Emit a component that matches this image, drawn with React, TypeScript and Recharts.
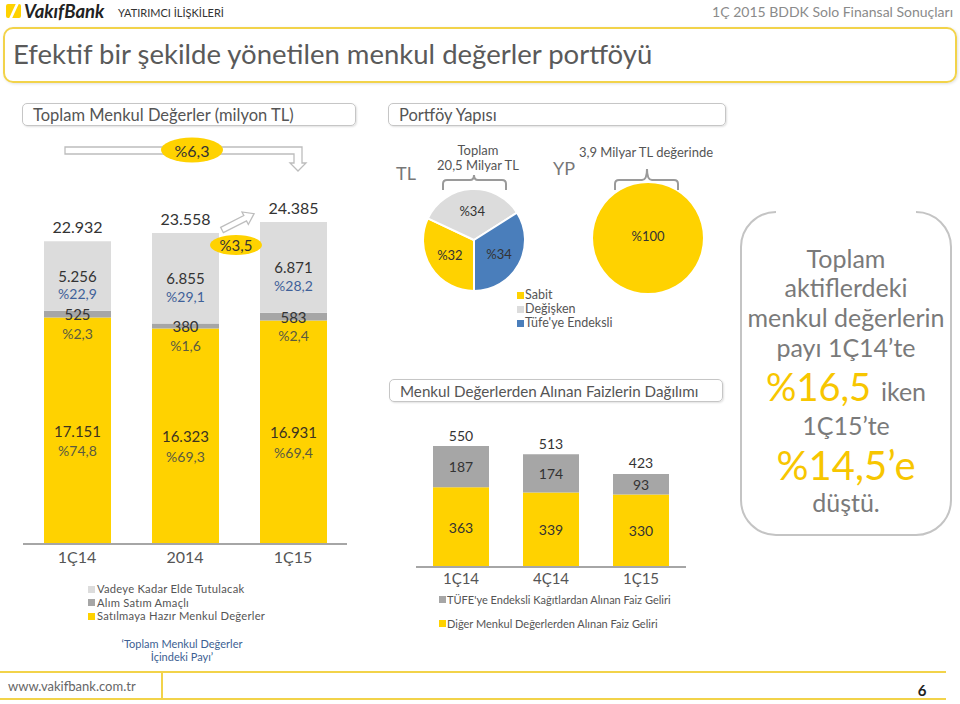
import React from "react";
import { BarChart, Bar, XAxis, YAxis, LabelList, PieChart, Pie, Cell } from "recharts";

const FONT = "Lato, 'Open Sans', sans-serif";
const YELLOW = "#FFD200";
const LIGHT = "#DCDCDC";
const DARK = "#A6A6A6";
const BLUE = "#4A7EBB";
const TEXT = "#555555";

// Toplam Menkul Değerler (milyon TL)
const periods = ["1Ç14", "2014", "1Ç15"];
const satilmayaHazir = [17151, 16323, 16931];
const alimSatim = [525, 380, 583];
const vadeyeKadar = [5256, 6855, 6871];
const portfolioLegend = ["Vadeye Kadar Elde Tutulacak", "Alım Satım Amaçlı", "Satılmaya Hazır Menkul Değerler"];

// Portföy Yapısı
const tlNames = ["Sabit", "Değişken", "Tüfe'ye Endeksli"];
const tlShares = [32, 34, 34];
const ypShares = [100];

// Menkul Değerlerden Alınan Faizlerin Dağılımı
const quarters = ["1Ç14", "4Ç14", "1Ç15"];
const digerFaiz = [363, 339, 330];
const tufeFaiz = [187, 174, 93];
const incomeLegend = ["TÜFE'ye Endeksli Kağıtlardan Alınan Faiz Geliri", "Diğer Menkul Değerlerden Alınan Faiz Geliri"];

const growth = ["%6,3", "%3,5"];

const tr = (n: number) => String(n).replace(/\B(?=(\d{3})+(?!\d))/g, ".");
const pct = (v: number, t: number) => "%" + ((v / t) * 100).toFixed(1).replace(".", ",");

const portfolioData = periods.map((p, i) => ({
  period: p,
  satilmaya: satilmayaHazir[i],
  alim: alimSatim[i],
  vadeye: vadeyeKadar[i],
  total: satilmayaHazir[i] + alimSatim[i] + vadeyeKadar[i],
}));

const incomeData = quarters.map((q, i) => ({
  quarter: q,
  diger: digerFaiz[i],
  tufe: tufeFaiz[i],
  total: digerFaiz[i] + tufeFaiz[i],
}));

const tlData = tlNames.map((n, i) => ({ name: n, value: tlShares[i] }));
const tlColors = [YELLOW, LIGHT, BLUE];
const ypData = ypShares.map((v) => ({ name: "Sabit", value: v }));

function T({ x, y, children, size = 13, color = TEXT, align = "left", weight = 400, style = {} }: any) {
  const tx = align === "center" ? "-50%" : align === "right" ? "-100%" : "0";
  return (
    <div
      style={{
        position: "absolute",
        left: x,
        top: y,
        transform: `translate(${tx}, -50%)`,
        fontSize: size,
        color,
        fontWeight: weight,
        lineHeight: 1,
        whiteSpace: "nowrap",
        fontFamily: FONT,
        ...style,
      }}
    >
      {children}
    </div>
  );
}

const box = (p: any) => {
  const v = p.viewBox || {};
  return { x: p.x ?? v.x, y: p.y ?? v.y, w: p.width ?? v.width, h: p.height ?? v.height };
};

const segLabel = (key: "vadeye" | "alim" | "satilmaya", valColor: string, pctColor: string, pctDy: number) => (p: any) => {
  const { x, y, w, h } = box(p);
  const row = portfolioData[p.index];
  const cx = x + w / 2;
  const cy = y + h / 2;
  return (
    <g>
      <text x={cx} y={cy} textAnchor="middle" dominantBaseline="central" fontSize={15} fill={valColor} fontFamily={FONT}>
        {tr(row[key])}
      </text>
      <text x={cx} y={cy + pctDy} textAnchor="middle" dominantBaseline="central" fontSize={14} fill={pctColor} fontFamily={FONT}>
        {pct(row[key], row.total)}
      </text>
    </g>
  );
};

const topLabel = (dy: number, size: number) => (p: any) => {
  const { x, y, w } = box(p);
  return (
    <text x={x + w / 2} y={y - dy} textAnchor="middle" dominantBaseline="central" fontSize={size} fill="#333" fontFamily={FONT}>
      {tr(p.value)}
    </text>
  );
};

const midLabel = (key: "diger" | "tufe") => (p: any) => {
  const { x, y, w, h } = box(p);
  return (
    <text x={x + w / 2} y={y + h / 2} textAnchor="middle" dominantBaseline="central" fontSize={14} fill="#333" fontFamily={FONT}>
      {incomeData[p.index][key]}
    </text>
  );
};

const RAD = Math.PI / 180;
const pieLabel = (p: any) => {
  const r = p.outerRadius * 0.56;
  const x = p.cx + r * Math.cos(-p.midAngle * RAD);
  const y = p.cy + r * Math.sin(-p.midAngle * RAD);
  return (
    <text x={x} y={y} textAnchor="middle" dominantBaseline="central" fontSize={13} fill="#333" fontFamily={FONT}>
      %{p.value}
    </text>
  );
};
const ypLabel = (p: any) => (
  <text x={p.cx} y={p.cy - 2} textAnchor="middle" dominantBaseline="central" fontSize={13} fill="#333" fontFamily={FONT}>
    %{p.value}
  </text>
);

const sectionBox = (x: number, y: number, w: number, label: string, size: number) => (
  <div
    style={{
      position: "absolute",
      left: x,
      top: y,
      width: w,
      height: 23,
      border: "1px solid #c6c6c6",
      borderRadius: 5,
      boxShadow: "1px 1px 2px rgba(0,0,0,0.12)",
      fontFamily: FONT,
      fontSize: size,
      color: TEXT,
      lineHeight: "22px",
      paddingLeft: 10,
      boxSizing: "border-box",
      whiteSpace: "nowrap",
    }}
  >
    {label}
  </div>
);

const Square = ({ x, y, color }: any) => (
  <div style={{ position: "absolute", left: x, top: y - 3.5, width: 7, height: 7, background: color }} />
);

export default function App() {
  return (
    <div style={{ position: "absolute", left: 0, top: 0, width: 960, height: 704, background: "#fff", overflow: "hidden", fontFamily: FONT }}>
      {/* header */}
      <div style={{ position: "absolute", left: 6, top: 4, width: 15, height: 14, background: YELLOW, borderRadius: 2, overflow: "hidden" }}>
        <div style={{ position: "absolute", left: 6, top: -2, width: 3, height: 20, background: "#fff", transform: "skewX(-25deg)" }} />
      </div>
      <T x={24} y={11} size={18.5} color="#222" weight={700} style={{ fontStyle: "italic" }}>VakıfBank</T>
      <T x={118} y={12} size={11} color="#333">YATIRIMCI İLİŞKİLERİ</T>
      <T x={953} y={12} size={14} color="#8a8a8a" align="right">1Ç 2015 BDDK Solo Finansal Sonuçları</T>

      <div
        style={{
          position: "absolute",
          left: 3,
          top: 27,
          width: 954,
          height: 56,
          border: "2px solid #F2D34A",
          borderRadius: 10,
          boxSizing: "border-box",
          boxShadow: "1px 1px 3px rgba(0,0,0,0.12)",
        }}
      />
      <T x={13} y={54} size={27.5} color="#5a5a5a">Efektif bir şekilde yönetilen menkul değerler portföyü</T>

      {sectionBox(22, 103, 334, "Toplam Menkul Değerler (milyon TL)", 16.5)}
      {sectionBox(388, 103, 338, "Portföy Yapısı", 16.5)}
      {sectionBox(389, 379, 334, "Menkul Değerlerden Alınan Faizlerin Dağılımı", 15.2)}

      {/* left stacked bars */}
      <div style={{ position: "absolute", left: 23, top: 181 }}>
        <BarChart width={324} height={363 + 30} data={portfolioData} margin={{ top: 0, right: 0, bottom: 0, left: 0 }}>
          <YAxis hide domain={[0, 27500]} />
          <XAxis
            dataKey="period"
            height={30}
            axisLine={{ stroke: "#A6A6A6", strokeWidth: 2 }}
            tickLine={false}
            tick={{ fontSize: 16, fill: TEXT, fontFamily: FONT }}
          />
          <Bar dataKey="satilmaya" stackId="a" fill={YELLOW} barSize={67} isAnimationActive={false}>
            <LabelList content={segLabel("satilmaya", "#3b3320", "#5a5a40", 20)} />
          </Bar>
          <Bar dataKey="alim" stackId="a" fill={DARK} barSize={67} isAnimationActive={false}>
            <LabelList content={segLabel("alim", "#333", "#5a5a40", 19)} />
          </Bar>
          <Bar dataKey="vadeye" stackId="a" fill={LIGHT} barSize={67} isAnimationActive={false}>
            <LabelList content={segLabel("vadeye", "#333", "#3F6199", 18)} />
            <LabelList dataKey="total" content={topLabel(15, 16)} />
          </Bar>
        </BarChart>
      </div>

      {portfolioLegend.map((l, i) => (
        <React.Fragment key={l}>
          <Square x={88} y={589 + i * 13.5} color={[LIGHT, DARK, YELLOW][i]} />
          <T x={97} y={589 + i * 13.5} size={11.2} color={TEXT} style={{ letterSpacing: 0.25 }}>{l}</T>
        </React.Fragment>
      ))}
      <T x={182} y={643} size={11} color="#3D5F93" align="center">‘Toplam Menkul Değerler</T>
      <T x={182} y={656} size={11} color="#3D5F93" align="center">İçindeki Payı’</T>

      {/* pies */}
      <div style={{ position: "absolute", left: 400, top: 180 }}>
        <PieChart width={320} height={120} margin={{ top: 0, right: 0, bottom: 0, left: 0 }}>
          <Pie
            data={tlData}
            dataKey="value"
            cx={74}
            cy={60}
            outerRadius={51}
            startAngle={-90}
            endAngle={-450}
            stroke="#fff"
            strokeWidth={2}
            label={pieLabel}
            labelLine={false}
            isAnimationActive={false}
          >
            {tlData.map((d, i) => (
              <Cell key={d.name} fill={tlColors[i]} />
            ))}
          </Pie>
          <Pie
            data={ypData}
            dataKey="value"
            cx={248}
            cy={58}
            outerRadius={55}
            startAngle={90}
            endAngle={-270}
            stroke="none"
            fill={YELLOW}
            label={ypLabel}
            labelLine={false}
            isAnimationActive={false}
          />
        </PieChart>
      </div>
      {tlNames.map((n, i) => (
        <React.Fragment key={n}>
          <Square x={517} y={295 + i * 14} color={tlColors[i]} />
          <T x={525} y={295 + i * 14} size={12.5} color={TEXT}>{n}</T>
        </React.Fragment>
      ))}
      <T x={478} y={150} size={13} color={TEXT} align="center">Toplam</T>
      <T x={478} y={165} size={13} color={TEXT} align="center">20,5 Milyar TL</T>
      <T x={406} y={173} size={18} color="#777" align="center">TL</T>
      <T x={564} y={168} size={18} color="#777" align="center">YP</T>
      <T x={646} y={152} size={13} color={TEXT} align="center">3,9 Milyar TL değerinde</T>

      {/* income bars */}
      <div style={{ position: "absolute", left: 416, top: 413 }}>
        <BarChart width={270} height={154 + 26} data={incomeData} margin={{ top: 0, right: 0, bottom: 0, left: 0 }}>
          <YAxis hide domain={[0, 700]} />
          <XAxis
            dataKey="quarter"
            height={26}
            axisLine={{ stroke: "#A6A6A6", strokeWidth: 2 }}
            tickLine={false}
            tickMargin={0}
            tick={{ fontSize: 15, fill: TEXT, fontFamily: FONT }}
          />
          <Bar dataKey="diger" stackId="b" fill={YELLOW} barSize={56} isAnimationActive={false}>
            <LabelList content={midLabel("diger")} />
          </Bar>
          <Bar dataKey="tufe" stackId="b" fill={DARK} barSize={56} isAnimationActive={false}>
            <LabelList content={midLabel("tufe")} />
            <LabelList dataKey="total" content={topLabel(11, 14)} />
          </Bar>
        </BarChart>
      </div>
      {incomeLegend.map((l, i) => (
        <React.Fragment key={l}>
          <Square x={439} y={599 + i * 24} color={[DARK, YELLOW][i]} />
          <T x={447} y={599 + i * 24} size={11} color={TEXT}>{l}</T>
        </React.Fragment>
      ))}

      {/* shapes */}
      <svg width={960} height={704} style={{ position: "absolute", left: 0, top: 0, pointerEvents: "none" }}>
        <polygon
          points="65,147 302,147 302,163 306,163 298,171 290,163 294,163 294,154 65,154"
          fill="#fff"
          stroke="#BDBDBD"
          strokeWidth={1.3}
        />
        <ellipse cx={192} cy={150} rx={31} ry={12.5} fill={YELLOW} />
        <text x={192} y={150} textAnchor="middle" dominantBaseline="central" fontSize={16} fill="#333" fontFamily={FONT}>
          {growth[0]}
        </text>
        <g transform="translate(222,230) rotate(-27)">
          <polygon points="0,-3 26,-3 26,-7 36,0 26,7 26,3 0,3" fill="#fff" stroke="#BDBDBD" strokeWidth={1.3} />
        </g>
        <ellipse cx={236} cy={245} rx={26} ry={10} fill={YELLOW} />
        <text x={236} y={245} textAnchor="middle" dominantBaseline="central" fontSize={15} fill="#333" fontFamily={FONT}>
          {growth[1]}
        </text>

        <path d="M443 190 L443 184 Q443 180 447 180 L470 180 Q474 180 474 175 Q474 180 478 180 L502 180 Q506 180 506 184 L506 190" fill="none" stroke="#9a9a9a" strokeWidth={2} />
        <path d="M615 190 L615 184 Q615 180 619 180 L642 180 Q647 180 647 169 Q647 180 652 180 L674 180 Q678 180 678 184 L678 190" fill="none" stroke="#9a9a9a" strokeWidth={2} />

        <path
          d="M776 212 A 35 35 0 0 0 741 247 L741 500 A 35 35 0 0 0 776 535 L916 535 A 35 35 0 0 0 951 500 L951 247 A 35 35 0 0 0 916 212"
          fill="none"
          stroke="#c4c4c4"
          strokeWidth={2}
        />

        <line x1={0} y1={672} x2={946} y2={672} stroke="#F2D34A" strokeWidth={2} />
        <line x1={0} y1={699} x2={946} y2={699} stroke="#F2D34A" strokeWidth={2} />
        <line x1={162} y1={672} x2={162} y2={699} stroke="#F2D34A" strokeWidth={2} />
      </svg>

      {/* right note */}
      <T x={846} y={258} size={25} color="#7a7a7a" align="center">Toplam</T>
      <T x={846} y={287} size={25} color="#7a7a7a" align="center">aktiflerdeki</T>
      <T x={846} y={317} size={25} color="#7a7a7a" align="center">menkul değerlerin</T>
      <T x={846} y={347} size={25} color="#7a7a7a" align="center">payı 1Ç14’te</T>
      <T x={846} y={386} size={38} color="#F7C600" align="center">
        %16,5 <span style={{ fontSize: 25, color: "#7a7a7a" }}>iken</span>
      </T>
      <T x={846} y={425} size={25} color="#7a7a7a" align="center">1Ç15’te</T>
      <T x={846} y={465} size={40} color="#F7C600" align="center">%14,5’e</T>
      <T x={846} y={502} size={25} color="#7a7a7a" align="center">düştü.</T>

      {/* footer */}
      <T x={8} y={686} size={13} color="#666">www.vakifbank.com.tr</T>
      <T x={922} y={690} size={15} color="#222" weight={700} align="center">6</T>
    </div>
  );
}
